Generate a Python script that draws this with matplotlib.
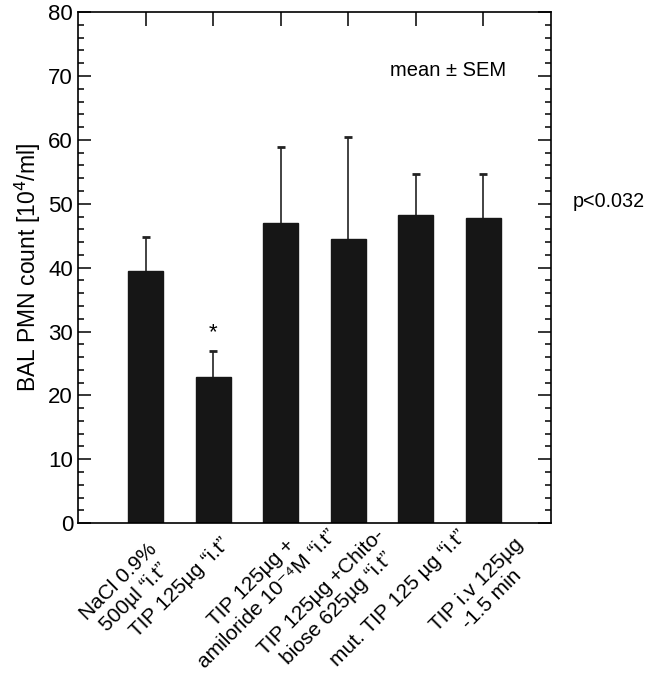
import numpy as np
import matplotlib
matplotlib.use("Agg")
import matplotlib.pyplot as plt
import matplotlib.transforms as mtransforms
from matplotlib.ticker import MultipleLocator

plt.rcParams['font.family'] = ['Liberation Sans', 'DejaVu Sans']

groups = [
    "NaCl 0.9%\n500\u00b5l \u201ci.t\u201d",
    "TIP 125\u00b5g \u201ci.t\u201d",
    "TIP 125\u00b5g +\namiloride 10\u207b\u2074M \u201ci.t\u201d",
    "TIP 125\u00b5g +Chito-\nbiose 625\u00b5g \u201ci.t\u201d",
    "mut. TIP 125 \u00b5g \u201ci.t\u201d",
    "TIP i.v 125\u00b5g\n-1.5 min",
]
means = [39.5, 22.9, 47.0, 44.5, 48.3, 47.8]
sem = [5.3, 4.0, 11.9, 16.0, 6.3, 6.8]

fig = plt.figure(figsize=(6.52, 6.75), dpi=100)
ax = fig.add_axes([0.1196, 0.225, 0.7254, 0.757])

x = np.arange(1, len(means) + 1)
ax.bar(x, means, width=0.52, color="#161616", edgecolor="#161616", zorder=2)
eb = ax.errorbar(x, means, yerr=[np.zeros(len(sem)), sem], fmt="none",
                 ecolor="#222222", elinewidth=1.2, capsize=3, capthick=2, zorder=1)
eb[1][0].set_visible(False)

ax.set_xlim(0, 7)
ax.set_ylim(0, 80)
ax.yaxis.set_major_locator(MultipleLocator(10))
ax.yaxis.set_minor_locator(MultipleLocator(2))
ax.tick_params(axis="y", which="major", direction="in", length=9.5, width=1.1,
               right=True, labelsize=16)
ax.tick_params(axis="y", which="minor", direction="in", length=4.5, width=1.1, right=True)
ax.set_xticks(x)
ax.tick_params(axis="x", direction="in", length=10, width=1.1, top=True, pad=0)
ax.set_xticklabels(groups, rotation=45, ha="center", va="center",
                   rotation_mode="anchor", multialignment="center", fontsize=15)
# the labels were placed by hand in the original, so nudge each one (pixels, right / down)
nudge = [(-19, 66), (-33, 64), (-21, 68), (-19, 77), (-17, 75), (1, 69)]
for lab, (dx, dy) in zip(ax.get_xticklabels(), nudge):
    shift = mtransforms.ScaledTranslation(dx / 100, -dy / 100, fig.dpi_scale_trans)
    lab.set_transform(lab.get_transform() + shift)
for s in ax.spines.values():
    s.set_linewidth(1.2)

ax.set_ylabel("BAL PMN count [10$^4$/ml]", fontsize=16.5, labelpad=4)

ax.text(x[1], 29.8, "*", ha="center", va="center", fontsize=16)
ax.text(0.66, 0.885, "mean \u00b1 SEM", transform=ax.transAxes, fontsize=14.5, ha="left", va="center")
ax.text(1.046, 0.63, "p<0.032", transform=ax.transAxes, fontsize=14.2, ha="left", va="center")

fig.savefig("out.png", dpi=100)
